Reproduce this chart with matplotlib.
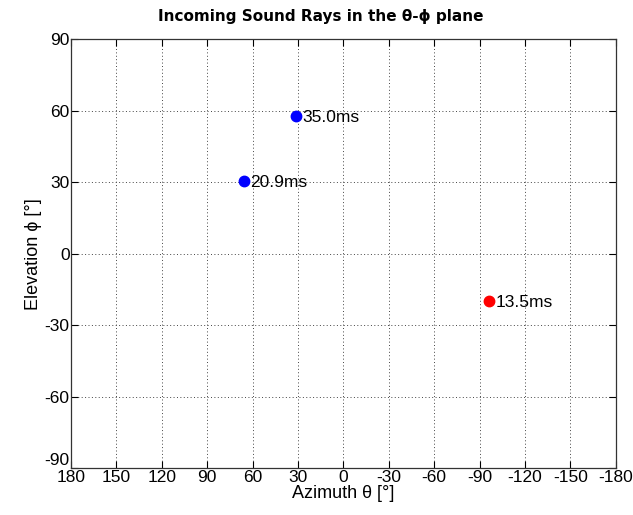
import matplotlib
matplotlib.use('Agg')
from matplotlib import pyplot as plt

# incoming rays: azimuth, elevation (deg), arrival time label
azimuth = [31.3, 65.7, -96.1]
elevation = [57.7, 30.5, -19.9]
delays = ["35.0ms", "20.9ms", "13.5ms"]
colors = ["#0000ff", "#0000ff", "#ff0000"]

xticks = [180, 150, 120, 90, 60, 30, 0, -30, -60, -90, -120, -150, -180]
yticks = [-90, -60, -30, 0, 30, 60, 90]

plt.rcParams['font.family'] = ['DejaVu Sans']

fig = plt.figure(figsize=(6.33, 5.15), dpi=100)
ax = fig.add_axes([0.112, 0.091, 0.861, 0.833])

for az, el, lab, c in zip(azimuth, elevation, delays, colors):
    ax.plot(az, el, 'o', color=c, markersize=7.5, zorder=3)
    ax.text(az - 4.2, el - 0.5, lab, fontsize=12.5, va='center', ha='left',
            family='Liberation Sans')

ax.set_xlim(180, -180)
ax.set_ylim(-90, 90)
ax.set_xticks(xticks)
ax.set_yticks(yticks)
ax.set_xticklabels([str(t) for t in xticks], family='Liberation Sans', fontsize=12.5)
ax.set_yticklabels([str(t) for t in yticks], family='Liberation Sans', fontsize=12.5)
# matlab lifts the bottom y label off the x labels
ax.get_yticklabels()[0].set_va('bottom')
ax.tick_params(direction='in', top=True, right=True, length=5, width=0.8, pad=1)
ax.grid(True, linestyle=(0, (1, 2.5)), color='#444444', linewidth=0.7)
for s in ax.spines.values():
    s.set_linewidth(0.9)
    s.set_color('#333333')

ax.set_xlabel("Azimuth θ [°]", fontsize=13, family='Liberation Sans', labelpad=0)
ax.set_ylabel("Elevation ϕ [°]", fontsize=13, family='Liberation Sans', labelpad=2)
fig.text(321 / 633, 1 - 17 / 515, "Incoming Sound Rays in the θ-ϕ plane",
         fontsize=11, fontweight='bold', ha='center', va='center')

plt.savefig("out.png", dpi=100)
